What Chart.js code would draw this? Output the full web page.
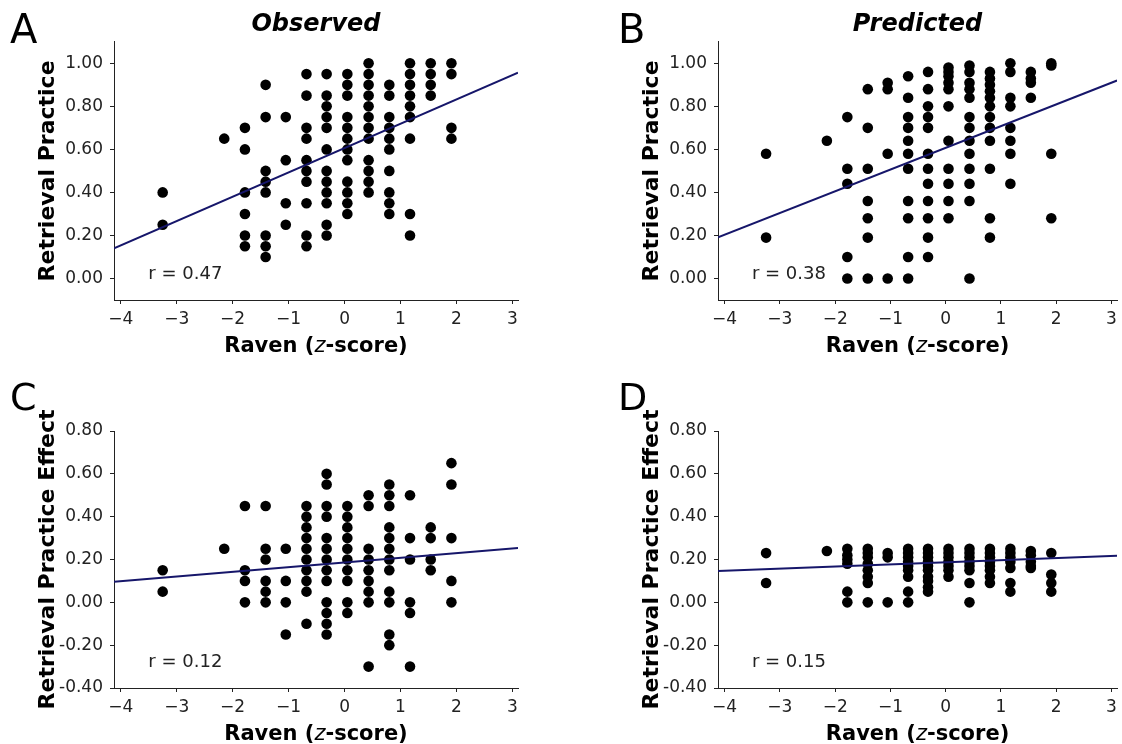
<!DOCTYPE html>
<html>
<head>
<meta charset="utf-8">
<title>Raven vs retrieval practice</title>
<script src="https://cdn.jsdelivr.net/npm/chart.js@4.4.1/dist/chart.umd.min.js"></script>
<style>
  html, body { margin: 0; padding: 0; background: #fff; }
  body { position: relative; width: 1122px; height: 744px; overflow: hidden; }
  canvas { position: absolute; }
</style>
</head>
<body>
<canvas id="panelA" width="561" height="372" style="left:0;top:0"></canvas>
<canvas id="panelB" width="561" height="372" style="left:561px;top:0"></canvas>
<canvas id="panelC" width="561" height="372" style="left:0;top:372px"></canvas>
<canvas id="panelD" width="561" height="372" style="left:561px;top:372px"></canvas>
<script>
// Raven z-score groups (one column of dots per group)
const ravenZ = [-3.25, -2.15, -1.78, -1.41, -1.05, -0.68, -0.32, 0.05, 0.43, 0.80, 1.17, 1.54, 1.91];

// Retrieval practice, observed (one list per Raven group)
const observedRP = [
  [0.40, 0.25],
  [0.65],
  [0.70, 0.60, 0.40, 0.30, 0.20, 0.15],
  [0.90, 0.75, 0.50, 0.45, 0.40, 0.20, 0.15, 0.10],
  [0.75, 0.55, 0.35, 0.25],
  [0.95, 0.85, 0.70, 0.65, 0.55, 0.50, 0.45, 0.35, 0.20, 0.15],
  [0.95, 0.85, 0.80, 0.75, 0.70, 0.60, 0.50, 0.45, 0.40, 0.35, 0.25, 0.20],
  [0.95, 0.90, 0.85, 0.75, 0.70, 0.65, 0.60, 0.55, 0.45, 0.40, 0.35, 0.30],
  [1.00, 0.95, 0.90, 0.85, 0.80, 0.75, 0.70, 0.65, 0.55, 0.50, 0.45, 0.40],
  [0.90, 0.85, 0.75, 0.70, 0.65, 0.60, 0.50, 0.40, 0.35, 0.30],
  [1.00, 0.95, 0.90, 0.85, 0.80, 0.75, 0.65, 0.30, 0.20],
  [1.00, 0.95, 0.90, 0.85],
  [1.00, 0.95, 0.70, 0.65]
];

// Retrieval practice, model prediction
const predictedRP = [
  [0.58, 0.19],
  [0.64],
  [0.75, 0.51, 0.44, 0.10, 0.00],
  [0.88, 0.70, 0.51, 0.36, 0.28, 0.19, 0.00],
  [0.91, 0.88, 0.58, 0.00],
  [0.94, 0.84, 0.75, 0.70, 0.64, 0.58, 0.51, 0.36, 0.28, 0.10, 0.00],
  [0.96, 0.88, 0.80, 0.75, 0.70, 0.58, 0.51, 0.44, 0.36, 0.28, 0.19, 0.10],
  [0.98, 0.96, 0.94, 0.91, 0.88, 0.80, 0.64, 0.51, 0.44, 0.36, 0.28],
  [0.99, 0.96, 0.91, 0.88, 0.84, 0.75, 0.70, 0.64, 0.58, 0.51, 0.44, 0.36, 0.00],
  [0.96, 0.93, 0.90, 0.87, 0.84, 0.80, 0.75, 0.70, 0.64, 0.51, 0.28, 0.19],
  [1.00, 0.96, 0.84, 0.80, 0.70, 0.64, 0.58, 0.44],
  [0.96, 0.93, 0.91, 0.84],
  [1.00, 0.99, 0.58, 0.28]
];

// Retrieval practice effect, observed
const observedEffect = [
  [0.15, 0.05],
  [0.25],
  [0.45, 0.15, 0.10, 0.00],
  [0.45, 0.25, 0.20, 0.10, 0.05, 0.00],
  [0.25, 0.10, 0.00, -0.15],
  [0.45, 0.40, 0.35, 0.30, 0.25, 0.20, 0.15, 0.10, 0.05, -0.10],
  [0.60, 0.55, 0.45, 0.40, 0.30, 0.25, 0.20, 0.15, 0.10, 0.00, -0.05, -0.10, -0.15],
  [0.45, 0.40, 0.35, 0.30, 0.25, 0.20, 0.15, 0.10, 0.00, -0.05],
  [0.50, 0.45, 0.25, 0.20, 0.15, 0.10, 0.05, 0.00, -0.30],
  [0.55, 0.50, 0.45, 0.35, 0.30, 0.25, 0.20, 0.15, 0.05, 0.00, -0.15, -0.20],
  [0.50, 0.30, 0.20, 0.00, -0.05, -0.30],
  [0.35, 0.30, 0.20, 0.15],
  [0.65, 0.55, 0.30, 0.10, 0.00]
];

// Retrieval practice effect, model prediction
const predictedEffect = [
  [0.23, 0.09],
  [0.24],
  [0.25, 0.22, 0.20, 0.18, 0.05, 0.00],
  [0.25, 0.23, 0.21, 0.18, 0.15, 0.12, 0.09, 0.00],
  [0.23, 0.21, 0.00],
  [0.25, 0.23, 0.21, 0.19, 0.17, 0.15, 0.12, 0.05, 0.00],
  [0.25, 0.23, 0.21, 0.19, 0.17, 0.15, 0.12, 0.10, 0.07, 0.05],
  [0.25, 0.23, 0.21, 0.19, 0.17, 0.15, 0.12],
  [0.25, 0.23, 0.21, 0.19, 0.17, 0.15, 0.09, 0.00],
  [0.25, 0.23, 0.21, 0.19, 0.17, 0.15, 0.12, 0.09],
  [0.25, 0.23, 0.21, 0.19, 0.16, 0.09, 0.05],
  [0.24, 0.22, 0.19, 0.17, 0.16],
  [0.23, 0.13, 0.09, 0.05]
];

// least-squares lines, panels A-D
const fitIntercepts = [0.606, 0.607, 0.186, 0.187];
const fitSlopes = [0.113, 0.101, 0.0217, 0.0098];
const rValues = ['0.47', '0.38', '0.12', '0.15'];

// axis ticks
const xTicks = [-4, -3, -2, -1, 0, 1, 2, 3];
const rpTicks = [0.0, 0.2, 0.4, 0.6, 0.8, 1.0];
const effectTicks = [-0.4, -0.2, 0.0, 0.2, 0.4, 0.6, 0.8];

const X_MIN = -4.12, X_MAX = 3.1;
const FONT = '"DejaVu Sans", "Liberation Sans", sans-serif';
const INK = '#222';

Chart.defaults.font.family = FONT;
Chart.defaults.color = INK;

// panel letter, r value and the x axis label (z in italics)
function panelText(letter, letterSize, letterX, letterY, r) {
  return {
    id: 'panelText' + letter,
    afterDraw(chart) {
      const ctx = chart.ctx;
      const a = chart.chartArea;
      ctx.save();
      ctx.fillStyle = '#000';
      ctx.textBaseline = 'alphabetic';
      ctx.textAlign = 'left';

      ctx.font = 'normal ' + letterSize + 'px ' + FONT;
      ctx.fillText(letter, letterX, letterY);

      ctx.fillStyle = INK;
      ctx.font = 'normal 18px ' + FONT;
      ctx.fillText('r = ' + r, a.left + 0.085 * (a.right - a.left), a.bottom - 0.08 * (a.bottom - a.top));

      const parts = [
        ['Raven (', 'bold 21px ' + FONT],
        ['z', 'italic 21px ' + FONT],
        ['-score)', 'bold 21px ' + FONT]
      ];
      let total = 0;
      parts.forEach(p => { ctx.font = p[1]; total += ctx.measureText(p[0]).width; });
      let x = (a.left + a.right) / 2 - total / 2;
      ctx.fillStyle = '#000';
      parts.forEach(p => {
        ctx.font = p[1];
        ctx.fillText(p[0], x, a.bottom + 52);
        x += ctx.measureText(p[0]).width;
      });
      ctx.restore();
    }
  };
}

function makePanel(id, idx, values, opts) {
  const points = [];
  values.forEach((col, i) => col.forEach(v => points.push({ x: ravenZ[i], y: v })));
  const b = fitIntercepts[idx], m = fitSlopes[idx];
  const fitLine = [X_MIN, X_MAX].map(x => ({ x: x, y: b + m * x }));

  new Chart(document.getElementById(id), {
    type: 'scatter',
    data: {
      datasets: [
        {
          type: 'line',
          data: fitLine,
          borderColor: '#16166a',
          borderWidth: 2,
          pointRadius: 0,
          fill: false,
          order: 0
        },
        {
          data: points,
          backgroundColor: '#000',
          borderWidth: 0,
          pointRadius: 5.3,
          order: 1
        }
      ]
    },
    options: {
      responsive: false,
      animation: false,
      layout: {
        autoPadding: false,
        padding: { left: opts.padLeft, top: opts.padTop, right: opts.padRight, bottom: opts.padBottom }
      },
      plugins: {
        legend: { display: false },
        tooltip: { enabled: false },
        title: {
          display: !!opts.title,
          text: opts.title || '',
          fullSize: false,
          color: '#000',
          font: { size: 24, weight: 'bold', style: 'italic' },
          padding: { top: 10, bottom: 3 }
        }
      },
      scales: {
        x: {
          type: 'linear',
          min: X_MIN,
          max: X_MAX,
          afterBuildTicks: s => { s.ticks = xTicks.map(v => ({ value: v })); },
          afterFit: s => { s.height = 56; },
          ticks: {
            callback: v => String(v).replace('-', '\u2212'),
            font: { size: 17 },
            color: INK,
            padding: 5,
            maxRotation: 0,
            autoSkip: false
          },
          grid: { drawOnChartArea: false, drawTicks: true, tickLength: 4, color: INK },
          border: { display: true, color: INK, width: 1 }
        },
        y: {
          min: opts.yMin,
          max: opts.yMax,
          afterBuildTicks: s => { s.ticks = opts.yTicks.map(v => ({ value: v })); },
          afterFit: s => { s.width = 114; },
          ticks: {
            callback: v => v.toFixed(2),
            font: { size: 17 },
            color: INK,
            padding: 7,
            autoSkip: false
          },
          grid: { drawOnChartArea: false, drawTicks: true, tickLength: 4, color: INK },
          border: { display: true, color: INK, width: 1 },
          title: {
            display: true,
            text: opts.yTitle,
            color: '#000',
            font: { size: 22, weight: 'bold' },
            padding: { top: 35 }
          }
        }
      }
    },
    plugins: [panelText(opts.letter, opts.letterSize, opts.letterX, opts.letterY, rValues[idx])]
  });
}

makePanel('panelA', 0, observedRP, {
  title: 'Observed', letter: 'A', letterSize: 40, letterX: 10, letterY: 43,
  padLeft: 0, padRight: 43, padTop: 0, padBottom: 16,
  yMin: -0.1, yMax: 1.1, yTicks: rpTicks, yTitle: 'Retrieval Practice'
});
makePanel('panelB', 1, predictedRP, {
  title: 'Predicted', letter: 'B', letterSize: 40, letterX: 57, letterY: 43,
  padLeft: 43, padRight: 0, padTop: 0, padBottom: 16,
  yMin: -0.1, yMax: 1.1, yTicks: rpTicks, yTitle: 'Retrieval Practice'
});
makePanel('panelC', 2, observedEffect, {
  letter: 'C', letterSize: 38, letterX: 10, letterY: 38,
  padLeft: 0, padRight: 43, padTop: 59, padBottom: 0,
  yMin: -0.4, yMax: 0.8, yTicks: effectTicks, yTitle: 'Retrieval Practice Effect'
});
makePanel('panelD', 3, predictedEffect, {
  letter: 'D', letterSize: 38, letterX: 57, letterY: 38,
  padLeft: 43, padRight: 0, padTop: 59, padBottom: 0,
  yMin: -0.4, yMax: 0.8, yTicks: effectTicks, yTitle: 'Retrieval Practice Effect'
});
</script>
</body>
</html>
